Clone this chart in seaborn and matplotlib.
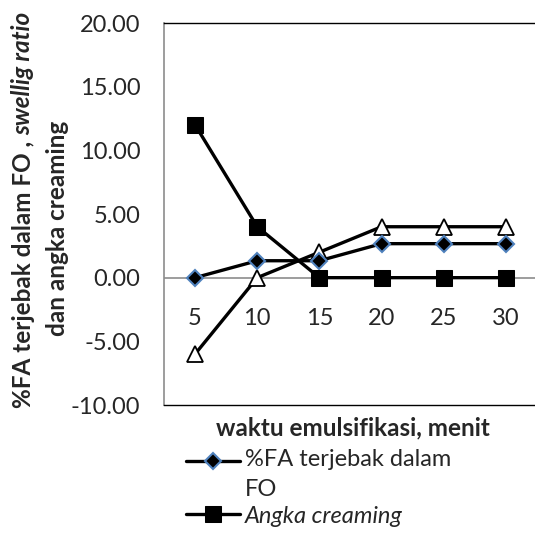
import matplotlib
matplotlib.use("Agg")
import matplotlib.pyplot as plt
from matplotlib.legend_handler import HandlerLine2D
import seaborn as sns
import pandas as pd

# data
waktu = [5, 10, 15, 20, 25, 30]
fa_terjebak = [0.0, 1.33, 1.33, 2.67, 2.67, 2.67]
angka_creaming = [12.0, 4.0, 0.0, 0.0, 0.0, 0.0]
swelling_ratio = [-6.0, 0.0, 2.0, 4.0, 4.0, 4.0]
y_ticks = [-10, -5, 0, 5, 10, 15, 20]

df = pd.DataFrame({"waktu": waktu, "fa": fa_terjebak,
                   "creaming": angka_creaming, "swelling": swelling_ratio})

sns.set_theme(style="white")
plt.rcParams["font.family"] = ["Lato", "DejaVu Sans"]
fs = 17
fs_lab = 17.5


class HandlerFirstLine(HandlerLine2D):
    # put the legend marker beside the first line of a two-line label
    def create_artists(self, legend, orig_handle, xdescent, ydescent,
                       width, height, fontsize, trans):
        return super().create_artists(legend, orig_handle, xdescent,
                                      ydescent - 19, width, height,
                                      fontsize, trans)


fig = plt.figure(figsize=(5.35, 5.4), dpi=100)
ax = fig.add_axes([0.3065, 0.25, 0.6972, 0.7074])

ax.axhline(0, color="#8c8c8c", lw=1.2, zorder=0)

sns.lineplot(data=df, x="waktu", y="swelling", color="black", lw=2.4,
             marker="^", ms=11, mfc="white", mec="black", mew=1.3,
             label="Swelling ratio", ax=ax)
sns.lineplot(data=df, x="waktu", y="fa", color="black", lw=2.4,
             marker="D", ms=8, mfc="black", mec="#4F81BD", mew=1.5,
             label="%FA terjebak dalam\nFO", ax=ax)
sns.lineplot(data=df, x="waktu", y="creaming", color="black", lw=2.4,
             marker="s", ms=11, mfc="black", mec="black",
             label="Angka creaming", ax=ax)
ax.get_legend().remove()

ax.set_xlim(2.5, 32.5)
ax.set_ylim(-10, 20)
ax.set_yticks(y_ticks)
ax.set_yticklabels([f"{v:.2f}" for v in y_ticks], fontsize=fs)
ax.tick_params(axis="y", length=0, pad=17)
ax.set_xticks([])
ax.set_xlabel("")
ax.set_ylabel("")
for side in ["top", "bottom", "right"]:
    ax.spines[side].set_color("black")
    ax.spines[side].set_linewidth(1.0)
ax.spines["left"].set_color("#8c8c8c")
ax.spines["left"].set_linewidth(1.2)

# category labels sit just under the zero line
sec = ax.secondary_xaxis(1 / 3)
sec.set_xticks(waktu)
sec.set_xticklabels([str(w) for w in waktu], fontsize=fs)
sec.tick_params(axis="x", length=0, pad=22)
sec.spines["bottom"].set_visible(False)

fig.text(0.66, 0.207, "waktu emulsifikasi, menit", fontsize=fs_lab,
         fontweight="bold", ha="center", va="center")

# y label, built from pieces for the italic part
p1 = fig.text(0.043, 0.245, "%FA terjebak dalam FO , ", fontsize=fs_lab,
              fontweight="bold", rotation=90, ha="center", va="bottom")
fig.canvas.draw()
bb = p1.get_window_extent()
fig.text(0.043, bb.y1 / fig.bbox.height, "swellig ratio", fontsize=fs_lab,
         fontweight="bold", style="italic", rotation=90,
         ha="center", va="bottom")
fig.text(0.108, 0.578, "dan angka creaming", fontsize=fs_lab,
         fontweight="bold", rotation=90, ha="center", va="center")

handles, labels = ax.get_legend_handles_labels()
leg = fig.legend(handles[1:], labels[1:], loc="upper left",
                 bbox_to_anchor=(0.325, 0.19), frameon=False, fontsize=fs,
                 handlelength=2.3, handletextpad=0.2, borderpad=0,
                 labelspacing=0.25,
                 handler_map={handles[1]: HandlerFirstLine()})
for t in leg.get_texts():
    t.set_linespacing(1.5)
leg.get_texts()[1].set_style("italic")

fig.savefig("out.png", dpi=100)
